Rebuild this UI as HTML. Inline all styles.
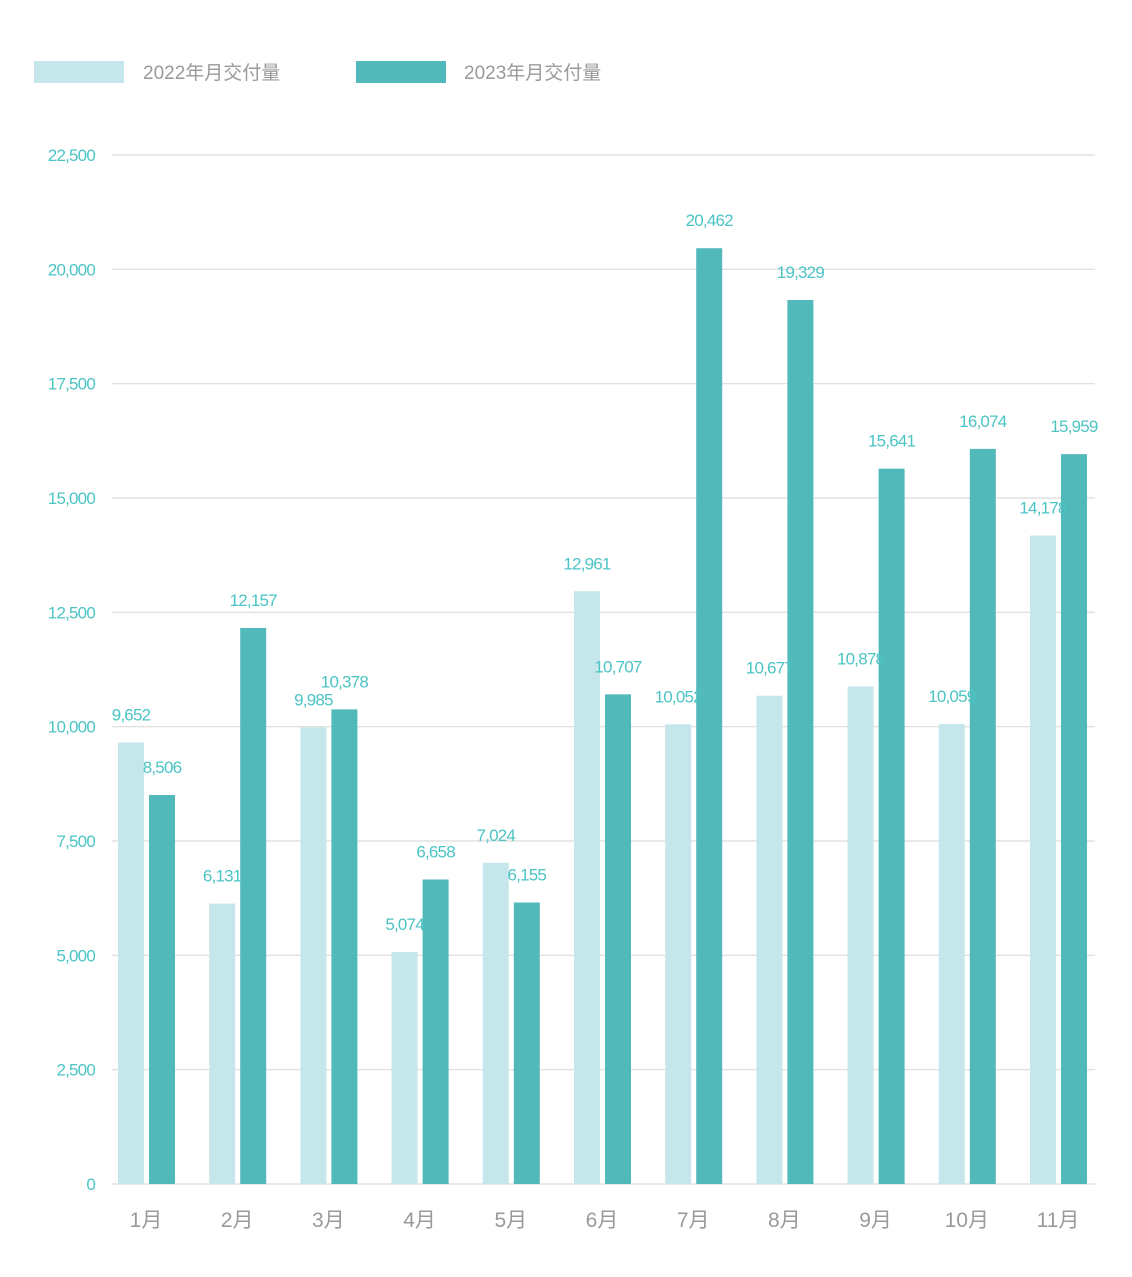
<!DOCTYPE html>
<html><head><meta charset="utf-8"><style>
body{margin:0;background:#fff;}
svg text{font-family:"Liberation Sans","Noto Sans CJK SC",sans-serif;}
</style></head><body>
<svg id="chart" width="1132" height="1272">
<g>
<rect x="34" y="61" width="90" height="22" fill="#c5e6ea"/>
<text x="143" y="79" font-size="19" fill="#9a9a9a">2022年月交付量</text>
<rect x="356" y="61" width="90" height="22" fill="#52b9bb"/>
<text x="464" y="79" font-size="19" fill="#9a9a9a">2023年月交付量</text>
</g>
<g id="grid"></g><g id="bars"></g>
</svg>
<script>
const categories=["1月","2月","3月","4月","5月","6月","7月","8月","9月","10月","11月"];
const values2022=[9652,6131,9985,5074,7024,12961,10052,10677,10878,10059,14178];
const values2023=[8506,12157,10378,6658,6155,10707,20462,19329,15641,16074,15959];
const yTicks=[0,2500,5000,7500,10000,12500,15000,17500,20000,22500];
const NS="http://www.w3.org/2000/svg";
const y0=1184,yTop=155,yMax=22500;
const y=v=>y0-(v/yMax)*(y0-yTop);
const x=i=>118+i*91.2;
const bw=26;
const fmt=v=>v.toLocaleString("en-US");
function mk(t,a,p){const e=document.createElementNS(NS,t);for(const k in a)e.setAttribute(k,a[k]);p.appendChild(e);return e;}
const grid=document.getElementById("grid"),bars=document.getElementById("bars");
yTicks.forEach(t=>{
 const l=mk("line",{x1:112,x2:1095,y1:y(t),y2:y(t),stroke:"#dcdcdc","stroke-width":1.2},grid);
 
 
 const tx=mk("text",{x:95,y:y(t)+6,"text-anchor":"end","font-size":17,fill:"#4cc4c4","letter-spacing":"-0.8"},grid);
 tx.textContent=fmt(t);
 
 
});
categories.forEach((c,i)=>{
 const a=values2022[i],b=values2023[i];
 const r1=mk("rect",{x:x(i),y:y(a),width:bw,height:y0-y(a),fill:"#c5e6ea"},bars);
 
 
 const r2=mk("rect",{x:x(i)+31,y:y(b),width:bw,height:y0-y(b),fill:"#52b9bb"},bars);
 
 
 const t1=mk("text",{x:x(i)+bw/2,y:y(a)-22,"text-anchor":"middle","font-size":17,fill:"#4cc4c4","letter-spacing":"-0.8"},bars);
 t1.textContent=fmt(a);
 
 
 const t2=mk("text",{x:x(i)+31+bw/2,y:y(b)-22,"text-anchor":"middle","font-size":17,fill:"#4cc4c4","letter-spacing":"-0.8"},bars);
 t2.textContent=fmt(b);
 
 
 const xl=mk("text",{x:x(i)+28,y:1227,"text-anchor":"middle","font-size":21,fill:"#9a9a9a"},bars);
 xl.textContent=c;
 
 
});
</script>
</body></html>
